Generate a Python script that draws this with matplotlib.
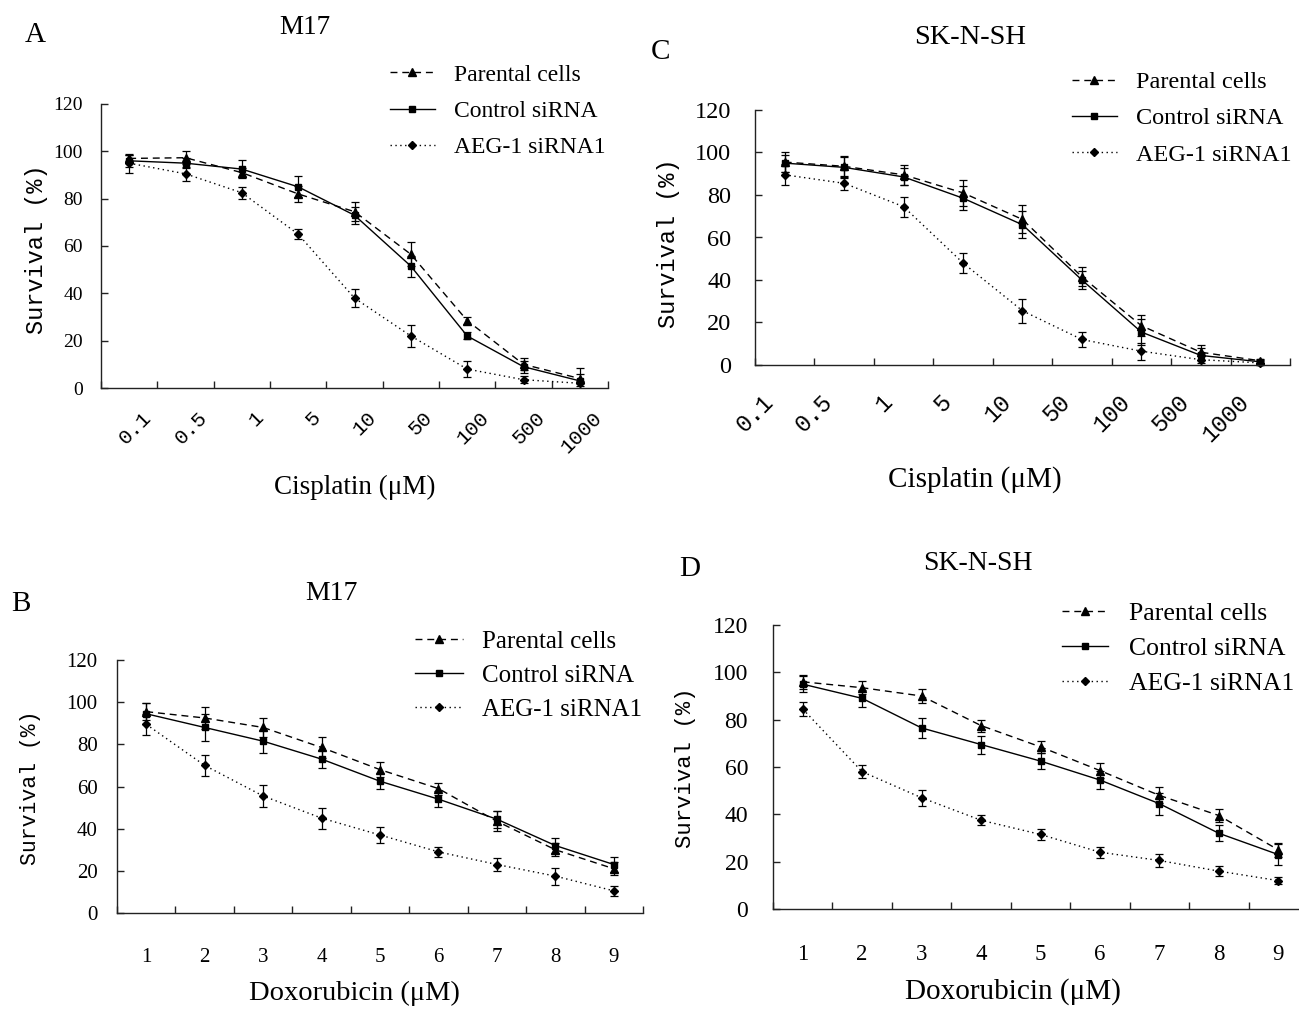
import matplotlib
matplotlib.use("Agg")
import matplotlib.pyplot as plt
from matplotlib.transforms import ScaledTranslation
import numpy as np

W, H = 1299, 1009

series_names = ["Parental cells", "Control siRNA", "AEG-1 siRNA1"]
cisplatin_ticks = ["0.1", "0.5", "1", "5", "10", "50", "100", "500", "1000"]
doxorubicin_ticks = ["1", "2", "3", "4", "5", "6", "7", "8", "9"]
y_ticks = [0, 20, 40, 60, 80, 100, 120]

# A: M17, cisplatin
parental_a = [97, 97.3, 91, 82, 74.5, 56.5, 28.5, 10, 4]
control_a = [96, 95, 92.5, 85, 73, 51.5, 22, 9, 3]
aeg_a = [95, 90.5, 82.5, 65, 38, 22, 8, 3.5, 2]
parental_a_err = [1.5, 2.8, 2, 3.5, 4, 5, 1.5, 2.5, 2]
control_a_err = [2.5, 2, 3.8, 4.5, 3.5, 4.4, 1.5, 2.5, 5.5]
aeg_a_err = [4, 3, 2.5, 2, 3.7, 4.6, 3.5, 1.5, 1]

# C: SK-N-SH, cisplatin
parental_c = [95.5, 93.5, 89.5, 81, 68.5, 41.5, 18.5, 6, 2]
control_c = [95, 93, 88.5, 78.5, 66, 40, 15.5, 4.5, 1.5]
aeg_c = [89.5, 85.5, 74.5, 48, 25.5, 12, 6.5, 2.5, 1]
parental_c_err = [4.5, 4.7, 4.7, 6, 6.6, 4.4, 5, 3.5, 1]
control_c_err = [4, 5, 4, 5.5, 6.3, 4.2, 6, 3.5, 1]
aeg_c_err = [5, 3, 4.7, 4.9, 5.7, 3.3, 4, 3, 1]

# B: M17, doxorubicin
parental_b = [95.5, 92.5, 88, 78.5, 68, 59, 43.5, 30, 21]
control_b = [94.5, 88, 81.5, 73, 62.5, 54, 44.5, 32, 23]
aeg_b = [89.5, 70, 55.5, 45, 37, 29, 23, 17.5, 10.5]
parental_b_err = [4, 5, 4.7, 5.2, 3.6, 2.8, 4.7, 3, 3]
control_b_err = [5, 6.3, 5.5, 4.4, 3.8, 3.8, 4, 3.5, 3.5]
aeg_b_err = [5, 5, 5, 5, 3.6, 2.4, 3.3, 4, 2.5]

# D: SK-N-SH, doxorubicin
parental_d = [96, 93.5, 90, 77.5, 68.5, 58.5, 48, 39.5, 25]
control_d = [95, 89, 76.5, 69.5, 62.5, 54.5, 44.5, 32, 23]
aeg_d = [84.5, 58, 47, 37.5, 31.5, 24, 20.5, 16, 12]
parental_d_err = [3, 2.8, 3, 2.5, 2.5, 3.2, 3.4, 2.8, 3]
control_d_err = [3.5, 3.5, 4.2, 3.8, 3.5, 3.9, 4.6, 3.4, 4.5]
aeg_d_err = [2.8, 2.8, 3.3, 2.2, 2.3, 2.3, 2.9, 2.2, 1.5]

plt.rcParams["font.family"] = ["Liberation Serif", "DejaVu Serif"]

STYLES = [
    dict(linestyle=(0, (5, 3.5)), marker="^", markersize=5.5),
    dict(linestyle="-", marker="s", markersize=5),
    dict(linestyle=(0, (1, 2.5)), marker="D", markersize=4),
]


def fx(x):
    return x / W


def fy(y):
    return 1 - y / H


def add_panel(fig, box, values, errors, tick_labels, rotated, opts):
    x0, y0, x1, y1 = box
    ax = fig.add_axes([fx(x0), fy(y1), (x1 - x0) / W, (y1 - y0) / H])
    cats = np.arange(1, len(tick_labels) + 1)
    handles = []
    for vals, errs, style, name in zip(values, errors, STYLES, series_names):
        ax.errorbar(cats, vals, yerr=errs, fmt="none", ecolor="black",
                    elinewidth=0.9, capsize=3, capthick=0.9)
        (line,) = ax.plot(cats, vals, color="black", linewidth=1.0,
                          markerfacecolor="black", markeredgecolor="black",
                          clip_on=False, label=name, **style)
        handles.append(line)

    ax.set_xlim(0.5, len(cats) + 0.5)
    ax.set_ylim(0, 120)
    ax.set_yticks(y_ticks)
    ax.set_xticks(np.arange(0.5, len(cats) + 1, 1.0))
    ax.set_xticklabels([])
    ax.set_xticks(cats, minor=True)
    for side in ("top", "right"):
        ax.spines[side].set_visible(False)
    for side in ("left", "bottom"):
        ax.spines[side].set_linewidth(1.0)
        ax.spines[side].set_color("#222222")

    ax.tick_params(axis="x", which="major", direction="in", length=5, width=1, color="#222222")
    ax.tick_params(axis="y", direction="in", length=5, width=1, color="#222222",
                   pad=opts["ypad"], labelsize=opts["ysize"])
    if rotated:
        ax.set_xticklabels(tick_labels, minor=True, rotation=45, ha="right", va="center",
                           rotation_mode="anchor", family="Liberation Mono",
                           fontsize=opts["xsize"])
        ax.tick_params(axis="x", which="minor", length=0, pad=opts["xpad"])
        shift = ScaledTranslation(opts["xshift"] / 100, 0, fig.dpi_scale_trans)
        for lab in ax.get_xticklabels(minor=True):
            lab.set_transform(lab.get_transform() + shift)
    else:
        ax.set_xticklabels(tick_labels, minor=True, fontsize=opts["xsize"])
        ax.tick_params(axis="x", which="minor", length=0, pad=opts["xpad"])

    lx, ly = opts["legend_at"]
    ax.legend(handles=handles, loc="upper left", bbox_to_anchor=(fx(lx), fy(ly)),
              bbox_transform=fig.transFigure, frameon=False, fontsize=opts["lsize"],
              handlelength=opts["hlen"], handletextpad=0.8, labelspacing=opts["lspace"],
              borderpad=0, borderaxespad=0, numpoints=1)

    tx, ty = opts["title_at"]
    fig.text(fx(tx), fy(ty), opts["title"], fontsize=opts["tsize"], ha="center", va="center")
    px_, py_ = opts["letter_at"]
    fig.text(fx(px_), fy(py_), opts["letter"], fontsize=21, ha="center", va="center")
    xx, xy = opts["xlabel_at"]
    fig.text(fx(xx), fy(xy), opts["xlabel"], fontsize=opts["xlsize"], ha="center", va="center")
    yx, yy = opts["ylabel_at"]
    fig.text(fx(yx), fy(yy), "Survival (%)", fontsize=opts["ylsize"], rotation=90,
             ha="center", va="center", family="Liberation Mono")
    return ax


def main():
    fig = plt.figure(figsize=(W / 100, H / 100), dpi=100)

    add_panel(fig, (101, 104, 608, 388),
              [parental_a, control_a, aeg_a], [parental_a_err, control_a_err, aeg_a_err],
              cisplatin_ticks, True,
              dict(ypad=13, ysize=14, xsize=15, xpad=19, xshift=19,
                   legend_at=(390, 64), lsize=17, hlen=1.9, lspace=0.63,
                   title="M17", title_at=(305, 27), tsize=19.5,
                   letter="A", letter_at=(35, 35),
                   xlabel="Cisplatin (\u03bcM)", xlabel_at=(355, 487), xlsize=19.5,
                   ylabel_at=(37, 249), ylsize=17))

    add_panel(fig, (755, 110, 1290, 365),
              [parental_c, control_c, aeg_c], [parental_c_err, control_c_err, aeg_c_err],
              cisplatin_ticks, True,
              dict(ypad=17, ysize=17.5, xsize=17, xpad=24, xshift=-15,
                   legend_at=(1072, 71), lsize=17.5, hlen=1.85, lspace=0.59,
                   title="SK-N-SH", title_at=(970, 38), tsize=20.5,
                   letter="C", letter_at=(661, 52),
                   xlabel="Cisplatin (\u03bcM)", xlabel_at=(975, 480), xlsize=21,
                   ylabel_at=(668, 243), ylsize=17))

    add_panel(fig, (117, 660, 643, 913),
              [parental_b, control_b, aeg_b], [parental_b_err, control_b_err, aeg_b_err],
              doxorubicin_ticks, False,
              dict(ypad=14, ysize=15, xsize=15, xpad=25,
                   legend_at=(415, 630), lsize=18, hlen=1.9, lspace=0.46,
                   title="M17", title_at=(331, 594), tsize=20,
                   letter="B", letter_at=(21, 604),
                   xlabel="Doxorubicin (\u03bcM)", xlabel_at=(354, 993), xlsize=20.5,
                   ylabel_at=(31, 788), ylsize=15.5))

    add_panel(fig, (773, 625, 1308, 909),
              [parental_d, control_d, aeg_d], [parental_d_err, control_d_err, aeg_d_err],
              doxorubicin_ticks, False,
              dict(ypad=18, ysize=17, xsize=16.5, xpad=25,
                   legend_at=(1062, 602), lsize=18.5, hlen=1.8, lspace=0.46,
                   title="SK-N-SH", title_at=(978, 564), tsize=20,
                   letter="D", letter_at=(690, 569),
                   xlabel="Doxorubicin (\u03bcM)", xlabel_at=(1013, 992), xlsize=21,
                   ylabel_at=(685, 768), ylsize=16))

    fig.savefig("out.png", dpi=100)
    plt.close(fig)


if __name__ == "__main__":
    main()
